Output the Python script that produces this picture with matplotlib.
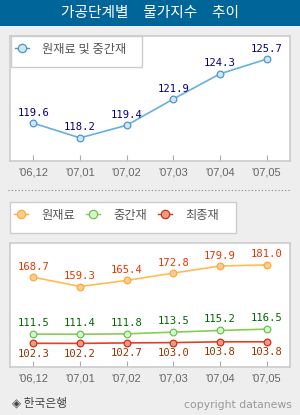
import matplotlib.pyplot as plt
from matplotlib.patches import Rectangle
from matplotlib.lines import Line2D

months = ["'06,12", "'07,01", "'07,02", "'07,03", "'07,04", "'07,05"]
raw_mid = [119.6, 118.2, 119.4, 121.9, 124.3, 125.7]
raw = [168.7, 159.3, 165.4, 172.8, 179.9, 181.0]
mid = [111.5, 111.4, 111.8, 113.5, 115.2, 116.5]
final = [102.3, 102.2, 102.7, 103.0, 103.8, 103.8]

W, H = 300, 415
KR = ['Noto Sans CJK KR', 'DejaVu Sans']
fig = plt.figure(figsize=(W / 100, H / 100), dpi=100)
fig.patch.set_facecolor('#eeeeee')


def fx(x):
    return x / W


def fy(y):
    return 1 - y / H


def box(x0, y0, x1, y1, **kw):
    return fig.add_artist(Rectangle((fx(x0), fy(y1)), fx(x1 - x0), (y1 - y0) / H,
                                    transform=fig.transFigure, **kw))


# title bar
box(0, 0, W, 26, facecolor='#006699', edgecolor='none')
fig.text(0.5, fy(13), '가공단계별\u3000물가지수\u3000추이', color='white', fontsize=10.6,
         ha='center', va='center', family=KR)


def make_axes(y0, y1, ylim):
    ax = fig.add_axes([fx(10), fy(y1), fx(280), (y1 - y0) / H])
    ax.set_facecolor('white')
    for s in ax.spines.values():
        s.set_color('#cccccc')
        s.set_linewidth(1.2)
    ax.set_xlim(-0.5, 5.5)
    ax.set_ylim(*ylim)
    ax.set_yticks([])
    ax.set_xticks(range(len(months)))
    ax.set_xticklabels(months, family='Liberation Sans', fontsize=8, color='#666666')
    ax.tick_params(axis='x', direction='in', length=4, color='#aaaaaa', pad=5)
    return ax


def series(ax, vals, lc, fc, ec, tc, off):
    x = range(len(vals))
    ax.plot(x, vals, color=lc, lw=1.2, marker='o', ms=4.8, mfc=fc, mec=ec, mew=0.9)
    for i, v in enumerate(vals):
        ax.annotate(f'{v:.1f}', (i, v), xytext=(0, off), textcoords='offset points',
                    ha='center', va='center', family='DejaVu Sans Mono',
                    fontsize=7.6, color=tc)


def legend_item(x, y, label, lc, fc, ec):
    fig.add_artist(Line2D([fx(x - 7), fx(x + 7)], [fy(y), fy(y)], color=lc, lw=1,
                          transform=fig.transFigure))
    fig.add_artist(Line2D([fx(x)], [fy(y)], marker='o', ms=6, mfc=fc, mec=ec, mew=0.9,
                          transform=fig.transFigure))
    fig.text(fx(x + 20), fy(y + 1), label, fontsize=8.8, color='#555555',
             va='center', ha='left', family=KR)


# panel 1
ax1 = make_axes(36, 161, (116.0, 127.9))
series(ax1, raw_mid, '#66b0e0', '#d0e6f8', '#4c96cc', '#000080', 7.5)
box(11, 36.5, 142, 67, facecolor='white', edgecolor='#cccccc', lw=1)
legend_item(21.5, 48.5, '원재료 및 중간재', '#4c96cc', '#d0e6f8', '#4c96cc')

# separator
fig.add_artist(Line2D([fx(8), fx(290)], [fy(190), fy(190)], color='#888888', lw=0.8,
                      ls=(0, (1, 2)), transform=fig.transFigure))

# legend 2
box(10, 202, 236, 233, facecolor='white', edgecolor='#cccccc', lw=1)
legend_item(21, 214.5, '원재료', '#ffaa33', '#ffcc99', '#ffaa33')
legend_item(93, 214.5, '중간재', '#88cc55', '#ccffcc', '#77bb55')
legend_item(165, 214.5, '최종재', '#dd3311', '#ee9988', '#cc3311')

# panel 2
ax2 = make_axes(243, 367, (78.5, 203))
series(ax2, raw, '#ffbb55', '#ffcc99', '#ffaa33', '#ee3300', 7.5)
series(ax2, mid, '#88cc55', '#ccffcc', '#77bb55', '#006600', 8)
series(ax2, final, '#dd4422', '#ee9988', '#cc3311', '#993300', -7.5)

# footer
fig.text(fx(12), fy(403), '◈ 한국은행', fontsize=8.5, color='#444444',
         va='center', ha='left', family=KR)
fig.text(fx(292), fy(405), 'copyright datanews', fontsize=7.8, color='#999999',
         va='center', ha='right', family='DejaVu Sans')

fig.savefig('out.png', dpi=100, facecolor=fig.get_facecolor())
